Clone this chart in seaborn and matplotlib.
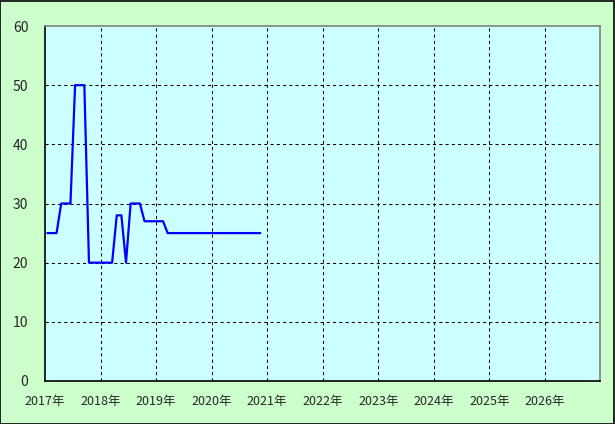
import matplotlib
matplotlib.use('Agg')
import matplotlib.pyplot as plt
import seaborn as sns
import pandas as pd

# monthly values, Jan 2017 .. Nov 2020
start_month = '2017-01'
values = [25, 25, 25, 30, 30, 30, 50, 50, 50, 20, 20, 20,
          20, 20, 20, 28, 28, 20, 30, 30, 30, 27, 27, 27,
          27, 27, 25, 25, 25, 25, 25, 25, 25, 25, 25, 25,
          25, 25, 25, 25, 25, 25, 25, 25, 25, 25, 25]
year_ticks = list(range(2017, 2027))
year_labels = [f'{y}年' for y in year_ticks]
y_ticks = [0, 10, 20, 30, 40, 50, 60]

months = pd.period_range(start_month, periods=len(values), freq='M')
df = pd.DataFrame({'x': months.year + (months.month - 0.5) / 12, 'value': values})

sns.set_style('white')
plt.rcParams['font.family'] = ['Noto Sans CJK JP', 'DejaVu Sans']

fig = plt.figure(figsize=(6.15, 4.24), dpi=100, facecolor='#CCFFCC')
ax = fig.add_axes([45 / 615, 43 / 424, 555.5 / 615, 355 / 424])
ax.set_facecolor('#CCFFFF')

sns.lineplot(data=df, x='x', y='value', ax=ax, color='#0000FF', linewidth=1.6)

ax.set_xlim(2017, 2027)
ax.set_ylim(0, 60)
ax.set_xticks(year_ticks)
ax.set_xticklabels(year_labels, fontsize=9)
ax.set_yticks(y_ticks)
ax.set_yticklabels([str(v) for v in y_ticks], fontsize=10)
ax.tick_params(length=0, pad=10)
ax.tick_params(axis='y', pad=12)
ax.set_xlabel('')
ax.set_ylabel('')

for y in y_ticks[1:-1]:
    ax.axhline(y, color='black', linewidth=0.75, linestyle=(0, (3, 3)), zorder=1)
for x in year_ticks[1:]:
    ax.axvline(x, color='black', linewidth=0.75, linestyle=(0, (3, 3)), zorder=1)

ax.spines['left'].set_color('black')
ax.spines['bottom'].set_color('black')
ax.spines['top'].set_color('#808080')
ax.spines['right'].set_color('#808080')
for s in ax.spines.values():
    s.set_linewidth(1.2)
    s.set_visible(True)

fig.patches.append(plt.Rectangle((0.0008, 0.001), 0.998, 0.997, transform=fig.transFigure,
                                 fill=False, edgecolor='black', linewidth=1.2))

fig.savefig('out.png', dpi=100, facecolor=fig.get_facecolor())
